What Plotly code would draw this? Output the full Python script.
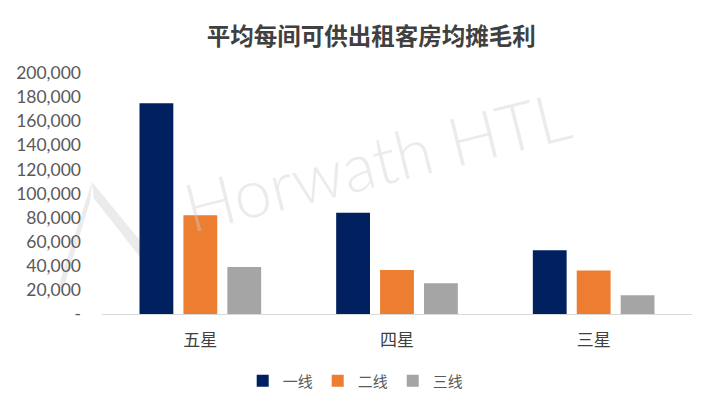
import plotly.graph_objects as go

# 酒店星级与城市等级
categories = ["五星", "四星", "三星"]
series_names = ["一线", "二线", "三线"]
tier1 = [175000, 84000, 53000]
tier2 = [82000, 36500, 36000]
tier3 = [39000, 25500, 15500]

tick_vals = [0, 20000, 40000, 60000, 80000, 100000, 120000, 140000, 160000, 180000, 200000]
tick_text = ["-", "20,000", "40,000", "60,000", "80,000", "100,000", "120,000",
             "140,000", "160,000", "180,000", "200,000"]

colors = ["#002060", "#ED7D31", "#A5A5A5"]
cjk = "Noto Sans CJK SC"
wm = "rgba(205,205,205,0.4)"

fig = go.Figure()
for name, vals, c in zip(series_names, [tier1, tier2, tier3], colors):
    fig.add_trace(go.Bar(x=categories, y=vals, name=name, marker=dict(color=c, line_width=0)))

# watermark: logo + text
fig.add_shape(type="path", xref="paper", yref="paper", layer="below",
              path="M -0.017,0.548 L 0.115,0.154 L 0.095,0.141 L -0.014,0.48 Z",
              fillcolor=wm, line_width=0)
fig.add_shape(type="path", xref="paper", yref="paper", layer="below",
              path="M -0.017,0.548 L -0.075,0.108 L -0.065,0.108 L -0.02,0.47 Z",
              fillcolor=wm, line_width=0)
fig.add_annotation(text="Horwath HTL", xref="paper", yref="paper", x=0.465, y=0.64,
                   showarrow=False, textangle=-14,
                   font=dict(family="Lato", size=67, weight=300, color=wm))

fig.update_layout(
    width=708, height=396,
    margin=dict(l=94, r=24, t=65, b=90),
    paper_bgcolor="white", plot_bgcolor="white",
    barmode="group", bargap=0.33, bargroupgap=0.23,
    title=dict(text="<b>平均每间可供出租客房均摊毛利</b>", x=0.513, xanchor="center",
               y=0.927, yanchor="middle",
               font=dict(family=cjk, size=23.5, color="#404040")),
    xaxis=dict(showline=True, linecolor="#D9D9D9", linewidth=1, ticks="",
               automargin=False, ticklabelstandoff=11,
               tickfont=dict(family=cjk, size=17, color="#404040")),
    yaxis=dict(range=[0, 200000], tickvals=tick_vals, ticktext=tick_text,
               showgrid=False, zeroline=False, showline=False, ticks="",
               automargin=False, ticklabelstandoff=20,
               tickfont=dict(family="Lato", size=17.5, color="#595959")),
    legend=dict(orientation="h", x=0.43, xanchor="center",
                yref="container", y=0.058, yanchor="middle",
                font=dict(family=cjk, size=15, color="#595959"),
                itemwidth=30, traceorder="normal"),
    showlegend=True,
)

fig.write_html("out.html")
